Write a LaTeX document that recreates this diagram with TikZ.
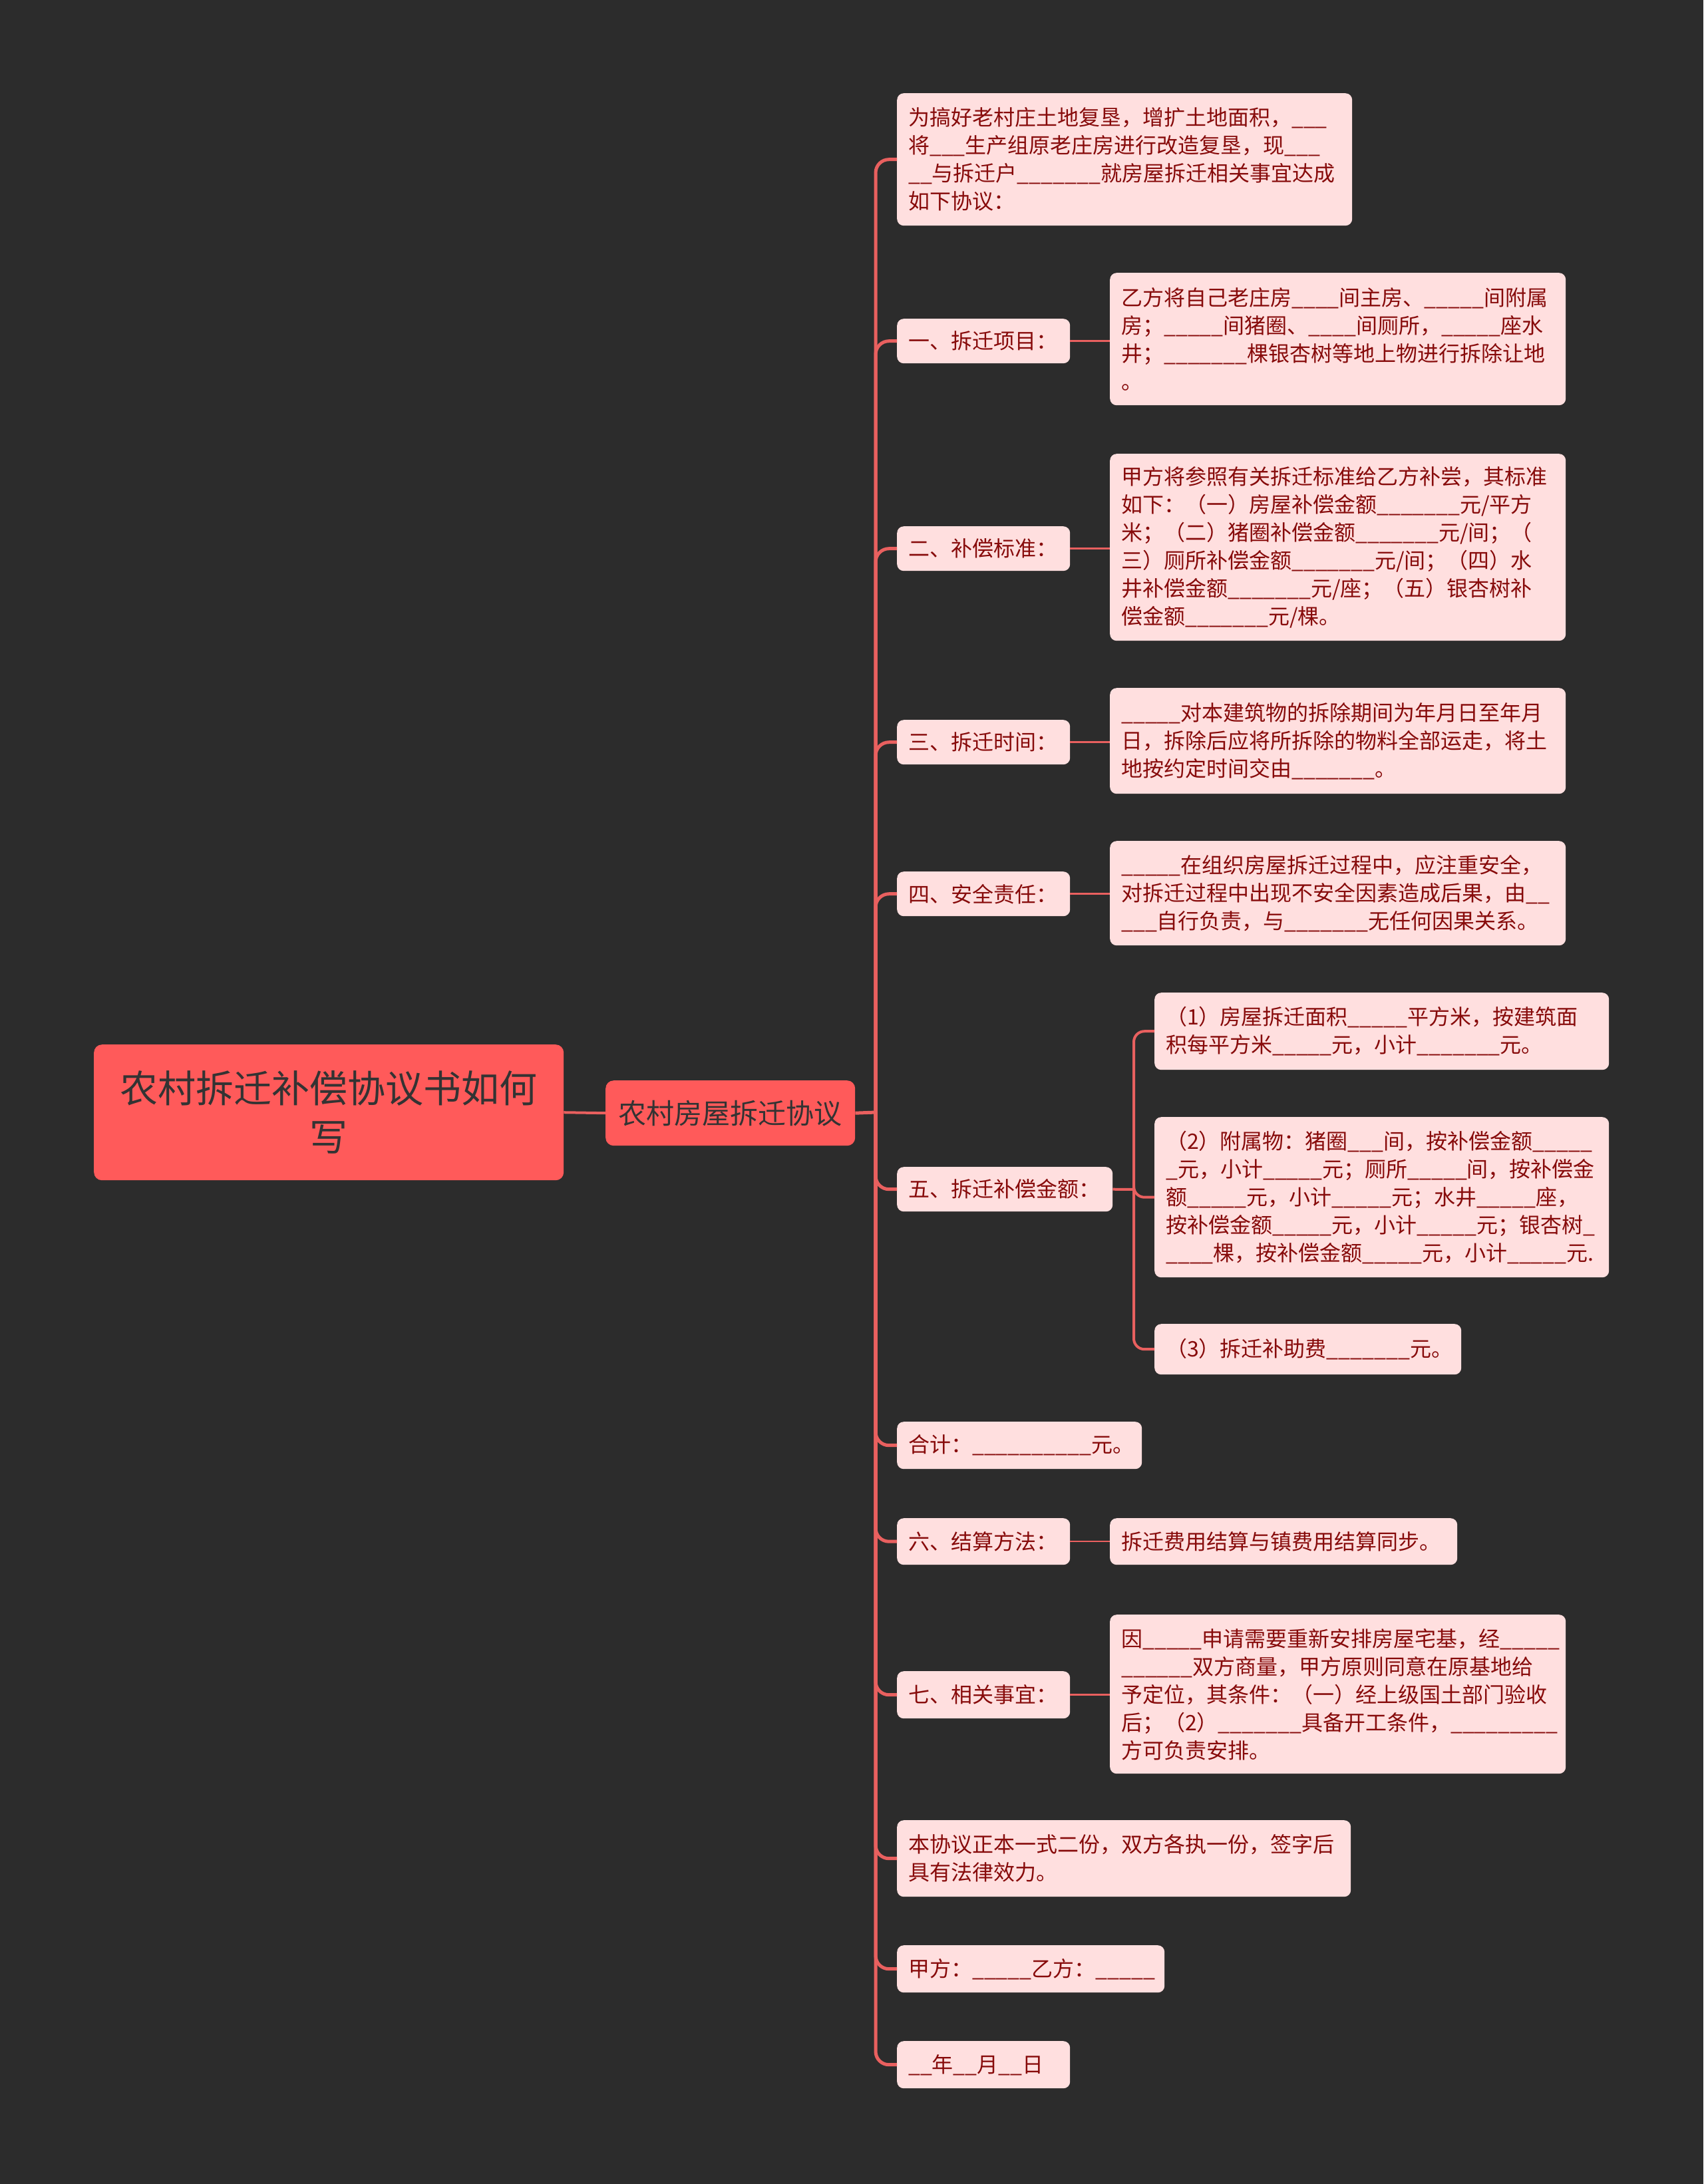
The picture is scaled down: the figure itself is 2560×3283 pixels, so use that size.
\documentclass[tikz,border=0pt]{standalone}
\usepackage{fontspec}
\setmainfont{Noto Sans CJK SC}
\ExplSyntaxOn
\newcommand\bk[1]{\prg_replicate:nn{#1}{\_}}
\ExplSyntaxOff
\definecolor{bgc}{HTML}{2C2C2C}
\definecolor{rootc}{HTML}{FF5A5A}
\definecolor{pinkc}{HTML}{FFDFDF}
\definecolor{txtc}{HTML}{870B0B}
\definecolor{darktxt}{HTML}{333333}
\definecolor{linec}{HTML}{E9605F}
\tikzset{
  leaf/.style={fill=pinkc, rounded corners=10pt, text=txtc, font=\fontsize{32}{42}\selectfont,
    inner xsep=17pt, inner ysep=0pt, anchor=north west, align=left},
  bigbox/.style={fill=rootc, rounded corners=12pt, text=darktxt, inner sep=0pt, anchor=north west, align=center},
  trunk/.style={draw=linec, line width=5pt, rounded corners=20pt},
  twig/.style={draw=linec, line width=2.5pt, rounded corners=16pt},
}
\begin{document}
\begin{tikzpicture}[x=1pt,y=-1pt]
\fill[bgc] (0,0) rectangle (2560,3283);
\useasboundingbox (0,0) rectangle (2560,3283);

% root and first level
\node[bigbox, minimum width=706pt, minimum height=204pt, font=\fontsize{57}{73}\selectfont] (root) at (141,1570) {农村拆迁补偿协议书如何\\写};
\node[bigbox, minimum width=375pt, minimum height=98pt, font=\fontsize{42}{50}\selectfont] (top) at (910,1624) {农村房屋拆迁协议};

% second level
\node[leaf, minimum width=684pt, minimum height=199pt, text width=650pt] (intro) at (1348,140) {为搞好老村庄土地复垦，增扩土地面积，\bk{3}\\将\bk{3}生产组原老庄房进行改造复垦，现\bk{3}\\\bk{2}与拆迁户\bk{7}就房屋拆迁相关事宜达成\\如下协议：};
\node[leaf, minimum width=260pt, minimum height=67pt, text width=226pt] (l1) at (1348,479) {一、拆迁项目：};
\node[leaf, minimum width=260pt, minimum height=67pt, text width=226pt] (l2) at (1348,791) {二、补偿标准：};
\node[leaf, minimum width=260pt, minimum height=67pt, text width=226pt] (l3) at (1348,1082) {三、拆迁时间：};
\node[leaf, minimum width=260pt, minimum height=67pt, text width=226pt] (l4) at (1348,1310) {四、安全责任：};
\node[leaf, minimum width=324pt, minimum height=67pt, text width=290pt] (l5) at (1348,1754) {五、拆迁补偿金额：};
\node[leaf, minimum width=368pt, minimum height=71pt, text width=334pt] (sum) at (1348,2137) {合计：\bk{10}元。};
\node[leaf, minimum width=260pt, minimum height=70pt, text width=226pt] (l6) at (1348,2282) {六、结算方法：};
\node[leaf, minimum width=260pt, minimum height=71pt, text width=226pt] (l7) at (1348,2512) {七、相关事宜：};
\node[leaf, minimum width=682pt, minimum height=115pt, text width=648pt] (end) at (1348,2736) {本协议正本一式二份，双方各执一份，签字后\\具有法律效力。};
\node[leaf, minimum width=402pt, minimum height=71pt, text width=368pt] (sign) at (1348,2924) {甲方：\bk{5}乙方：\bk{5}};
\node[leaf, minimum width=260pt, minimum height=71pt, text width=226pt] (date) at (1348,3068) {\bk{2}年\bk{2}月\bk{2}日};

% third level
\node[leaf, minimum width=685pt, minimum height=199pt, text width=651pt] (c1) at (1668,410) {乙方将自己老庄房\bk{4}间主房、\bk{5}间附属\\房；\bk{5}间猪圈、\bk{4}间厕所，\bk{5}座水\\井；\bk{7}棵银杏树等地上物进行拆除让地\\。};
\node[leaf, minimum width=685pt, minimum height=281pt, text width=651pt] (c2) at (1668,682) {甲方将参照有关拆迁标准给乙方补尝，其标准\\如下：（一）房屋补偿金额\bk{7}元/平方\\米；（二）猪圈补偿金额\bk{7}元/间；（\\三）厕所补偿金额\bk{7}元/间；（四）水\\井补偿金额\bk{7}元/座；（五）银杏树补\\偿金额\bk{7}元/棵。};
\node[leaf, minimum width=685pt, minimum height=159pt, text width=651pt] (c3) at (1668,1034) {\bk{5}对本建筑物的拆除期间为年月日至年月\\日，拆除后应将所拆除的物料全部运走，将土\\地按约定时间交由\bk{7}。};
\node[leaf, minimum width=685pt, minimum height=157pt, text width=651pt] (c4) at (1668,1264) {\bk{5}在组织房屋拆迁过程中，应注重安全，\\对拆迁过程中出现不安全因素造成后果，由\bk{2}\\\bk{3}自行负责，与\bk{7}无任何因果关系。};
\node[leaf, minimum width=683pt, minimum height=116pt, text width=649pt] (c51) at (1735,1492) {（1）房屋拆迁面积\bk{5}平方米，按建筑面\\积每平方米\bk{5}元，小计\bk{7}元。};
\node[leaf, minimum width=683pt, minimum height=241pt, text width=649pt] (c52) at (1735,1679) {（2）附属物：猪圈\bk{3}间，按补偿金额\bk{5}\\\bk{1}元，小计\bk{5}元；厕所\bk{5}间，按补偿金\\额\bk{5}元，小计\bk{5}元；水井\bk{5}座，\\按补偿金额\bk{5}元，小计\bk{5}元；银杏树\bk{1}\\\bk{4}棵，按补偿金额\bk{5}元，小计\bk{5}元.};
\node[leaf, minimum width=461pt, minimum height=76pt, text width=427pt] (c53) at (1735,1990) {（3）拆迁补助费\bk{7}元。};
\node[leaf, minimum width=522pt, minimum height=70pt, text width=488pt] (c6) at (1668,2282) {拆迁费用结算与镇费用结算同步。};
\node[leaf, minimum width=685pt, minimum height=239pt, text width=651pt] (c7) at (1668,2427) {因\bk{5}申请需要重新安排房屋宅基，经\bk{5}\\\bk{6}双方商量，甲方原则同意在原基地给\\予定位，其条件：（一）经上级国土部门验收\\后；（2）\bk{7}具备开工条件，\bk{9}\\方可负责安排。};

% connectors
\coordinate (t) at (1316,1672);
\coordinate (s) at (1704,1788);
\draw[trunk, line width=4pt] (root.east) -- (top.west);
\draw[trunk] (top.east) -- (t);
\foreach \n in {intro,l1,l2,l3,l4,l5,sum,l6,l7,end,sign,date}{
  \draw[trunk] (t) |- (\n.west);
}
\foreach \a/\b in {l1/c1,l2/c2,l3/c3,l4/c4,l6/c6,l7/c7}{
  \draw[twig] (\a.east) -- (\a.east -| \b.west);
}
\draw[twig, line width=4pt] (l5.east) -- (s);
\foreach \n in {c51,c52,c53}{
  \draw[twig, line width=4pt] (s) |- (\n.west);
}
\end{tikzpicture}
\end{document}
